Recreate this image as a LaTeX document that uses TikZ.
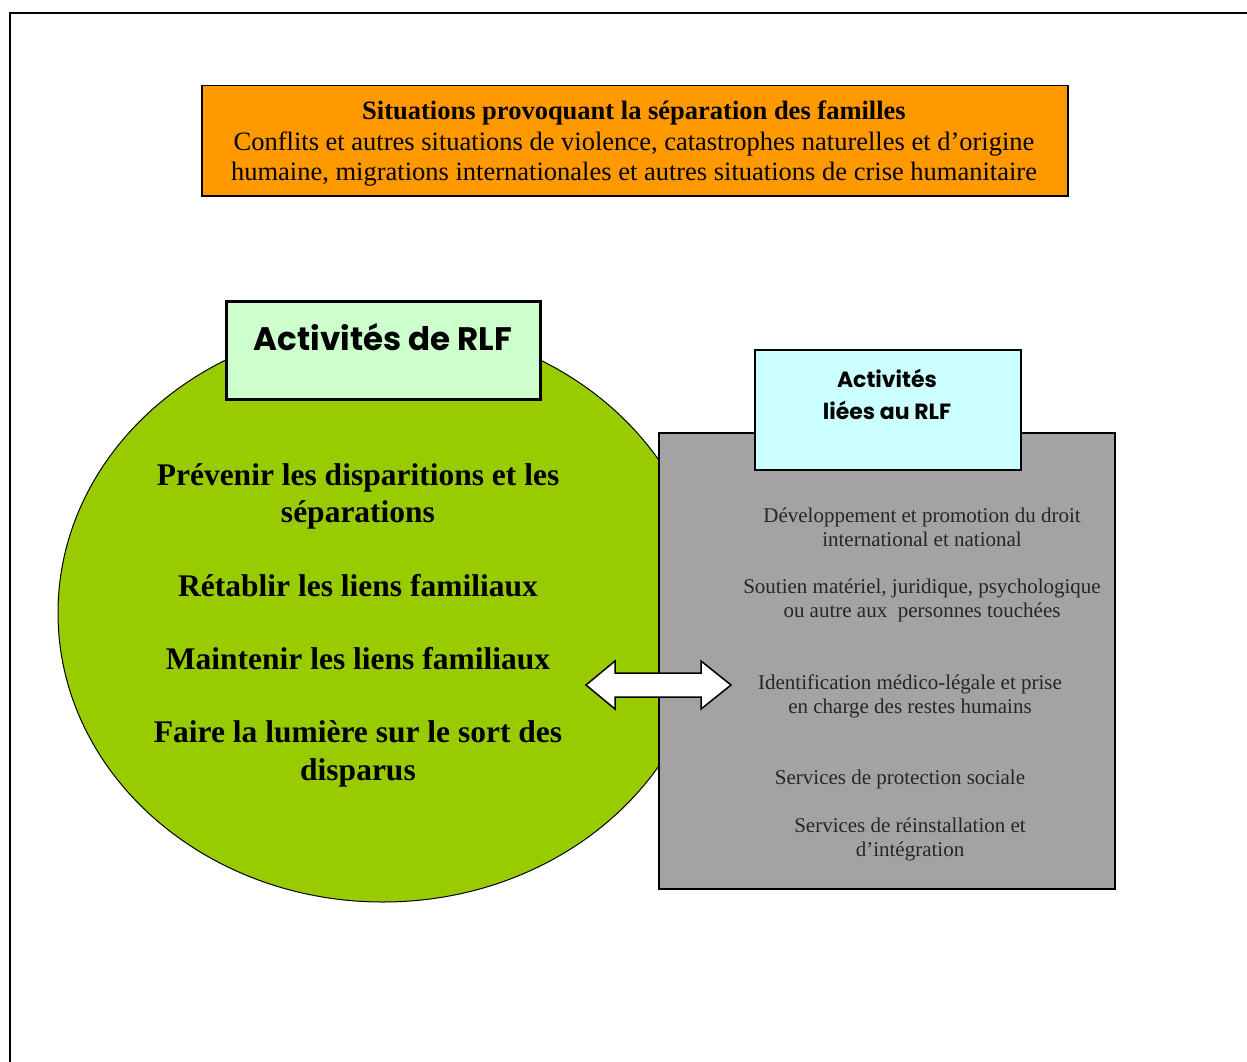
\documentclass[tikz,border=0pt]{standalone}
\usepackage{fontspec}
\setmainfont{Liberation Serif}
\newfontfamily\comic{Poppins}
\usetikzlibrary{shapes.geometric}
\definecolor{orangeF}{HTML}{FF9900}
\definecolor{greenF}{HTML}{99CC00}
\definecolor{lightgreenF}{HTML}{CCFFCC}
\definecolor{lightcyanF}{HTML}{CCFFFF}
\definecolor{greyF}{HTML}{A3A3A3}
\begin{document}
\begin{tikzpicture}[x=1pt,y=-1pt,
  panel/.style={draw=black, line width=1.5pt, inner sep=0pt, anchor=north west},
  circtext/.style={align=center, font=\bfseries\fontsize{31.5}{37}\selectfont},
  greytext/.style={align=center, text=black!85, font=\fontsize{21}{24}\selectfont},
  comictext/.style={align=center, font=\comic\bfseries}]
\useasboundingbox (0,0) rectangle (1247,1062);
% frame
\draw[line width=2pt] (10,1062) -- (10,13) -- (1247,13);
% top box
\node[panel, fill=orangeF, minimum width=866pt, minimum height=110pt] (sit) at (201,85) {};
\node[align=center, font=\fontsize{26.5}{30.5}\selectfont] (sittext) at (634,144)
  {\textbf{Situations provoquant la séparation des familles}\\
   Conflits et autres situations de violence, catastrophes naturelles et d’origine\\
   humaine, migrations internationales et autres situations de crise humanitaire};
% circle
\node[draw=black, line width=1pt, fill=greenF, ellipse, minimum width=650pt, minimum height=578pt, inner sep=0pt] (circ) at (383,613) {};
% green title box
\node[panel, line width=2.5pt, fill=lightgreenF, minimum width=314pt, minimum height=98pt] (rlf) at (225,300) {};
\node[comictext, font=\comic\bfseries\fontsize{32.5}{36}\selectfont] (rlftext) at (383,337) {Activités de RLF};
% grey box
\node[panel, fill=greyF, minimum width=456pt, minimum height=456pt] (grey) at (658,432) {};
% cyan box
\node[panel, fill=lightcyanF, minimum width=266pt, minimum height=120pt] (liees) at (754,349) {};
\node[comictext, font=\comic\bfseries\fontsize{22}{32}\selectfont] (liestext) at (887,394) {Activités\\liées au RLF};
% circle texts
\node[circtext] (t1) at (358,496) {Prévenir les disparitions et les\\séparations};
\node[circtext] (t2) at (358,586) {Rétablir les liens familiaux};
\node[circtext] (t3) at (358,659) {Maintenir les liens familiaux};
\node[circtext, font=\bfseries\fontsize{31.5}{38}\selectfont] (t4) at (358,754) {Faire la lumière sur le sort des\\disparus};
% grey texts
\node[greytext] (g1) at (922,527) {Développement et promotion du droit\\international et national};
\node[greytext] (g2) at (922,600) {Soutien matériel, juridique, psychologique\\ou autre aux\ \ personnes touchées};
\node[greytext] (g3) at (910,696) {Identification médico-légale et prise\\en charge des restes humains};
\node[greytext] (g4) at (900,779) {Services de protection sociale};
\node[greytext] (g5) at (910,839) {Services de réinstallation et\\d’intégration};
% double block arrow
\draw[line width=1.5pt, fill=white, line join=miter]
  (586,685) -- (615,661) -- (615,673) -- (701,673) -- (701,661) -- (731,685)
  -- (701,709) -- (701,697) -- (615,697) -- (615,709) -- cycle;
\end{tikzpicture}
\end{document}
